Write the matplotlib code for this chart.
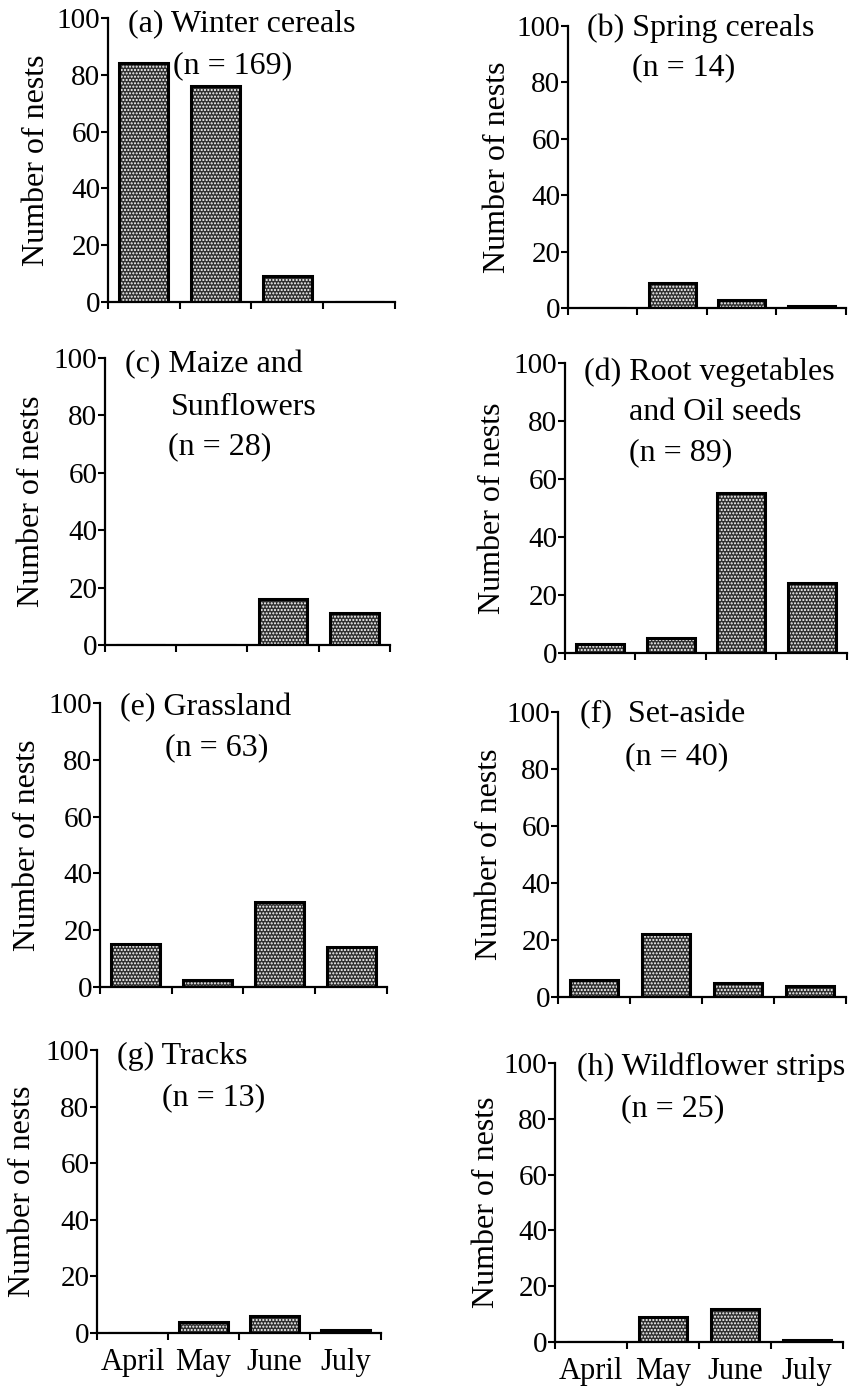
import matplotlib
matplotlib.use("Agg")
import matplotlib.pyplot as plt

plt.rcParams['font.family'] = ['Liberation Serif', 'DejaVu Serif']
plt.rcParams['hatch.linewidth'] = 1.0

months = ["April", "May", "June", "July"]
yticks = [0, 20, 40, 60, 80, 100]

winter_cereals = [84, 76, 9, 0]
spring_cereals = [0, 9, 3, 0.6]
maize_sunflowers = [0, 0, 16, 11]
root_oil = [3, 5, 55, 24]
grassland = [15, 2.5, 30, 14]
set_aside = [6, 22, 5, 4]
tracks = [0, 4, 6, 1]
wildflower = [0, 9, 12, 0.8]

titles = [
    ["(a) Winter cereals", "(n = 169)"],
    ["(b) Spring cereals", "(n = 14)"],
    ["(c) Maize and", "Sunflowers", "(n = 28)"],
    ["(d) Root vegetables", "and Oil seeds", "(n = 89)"],
    ["(e) Grassland", "(n = 63)"],
    ["(f)  Set-aside", "(n = 40)"],
    ["(g) Tracks", "(n = 13)"],
    ["(h) Wildflower strips", "(n = 25)"],
]
series = [winter_cereals, spring_cereals, maize_sunflowers, root_oil,
          grassland, set_aside, tracks, wildflower]

W, H = 853, 1386
fig = plt.figure(figsize=(W / 100, H / 100), dpi=100)

# left spine x, right end x, y of 0, y of 100 (pixels)
geom = [
    (108, 395, 302, 18),
    (568, 846, 308, 26),
    (105, 390, 645, 358),
    (565, 847, 653, 363),
    (100, 387, 987, 703),
    (558, 846, 997, 712),
    (97, 381, 1333, 1050),
    (555, 843, 1342, 1063),
]
# title line positions (x left, y center) in pixels
title_pos = [
    [(128, 24), (173, 66)],
    [(587, 28), (632, 68)],
    [(125, 365), (171, 407), (168, 447)],
    [(584, 372), (629, 413), (629, 453)],
    [(120, 708), (165, 748)],
    [(580, 715), (625, 757)],
    [(117, 1056), (162, 1098)],
    [(577, 1067), (621, 1109)],
]
ylabel_x = [37, 498, 32, 493, 28, 490, 23, 487]

FS_T = 23
FS_TICK = 21
x = [1, 2, 3, 4]
for i, (vals, g) in enumerate(zip(series, geom)):
    left, right, y0, y100 = g
    ax = fig.add_axes([left / W, 1 - y0 / H, (right - left) / W, (y0 - y100) / H])
    ax.bar(x, vals, width=0.68, color='#303030', edgecolor='white',
           hatch='.....', linewidth=0.001, zorder=2)
    ax.bar(x, vals, width=0.68, fill=False, edgecolor='black',
           linewidth=2.2, zorder=3)
    ax.set_xlim(0.5, 4.5)
    ax.set_ylim(0, 100)
    ax.set_yticks(yticks)
    ax.set_yticklabels([str(t) for t in yticks], fontsize=FS_TICK)
    ax.set_xticks([0.5, 1.5, 2.5, 3.5, 4.5])
    ax.set_xticklabels([])
    if i >= 6:
        ax.set_xticks(x, minor=True)
        ax.set_xticklabels(months, minor=True, fontsize=22)
        ax.tick_params(axis='x', which='minor', length=0, pad=11)
    ax.spines['top'].set_visible(False)
    ax.spines['right'].set_visible(False)
    for s in ('left', 'bottom'):
        ax.spines[s].set_linewidth(1.6)
    ax.tick_params(axis='both', which='major', direction='out', length=5,
                   width=1.5, pad=0.5)
    ax.patch.set_alpha(0)
    ycen = (y0 + y100) / 2
    fig.text(ylabel_x[i] / W, 1 - ycen / H, "Number of nests", rotation=90,
             ha='center', va='center', fontsize=FS_T)
    for line, (tx, ty) in zip(titles[i], title_pos[i]):
        fig.text(tx / W, 1 - ty / H, line, ha='left', va='center', fontsize=FS_T)

fig.savefig("out.png", dpi=100)
